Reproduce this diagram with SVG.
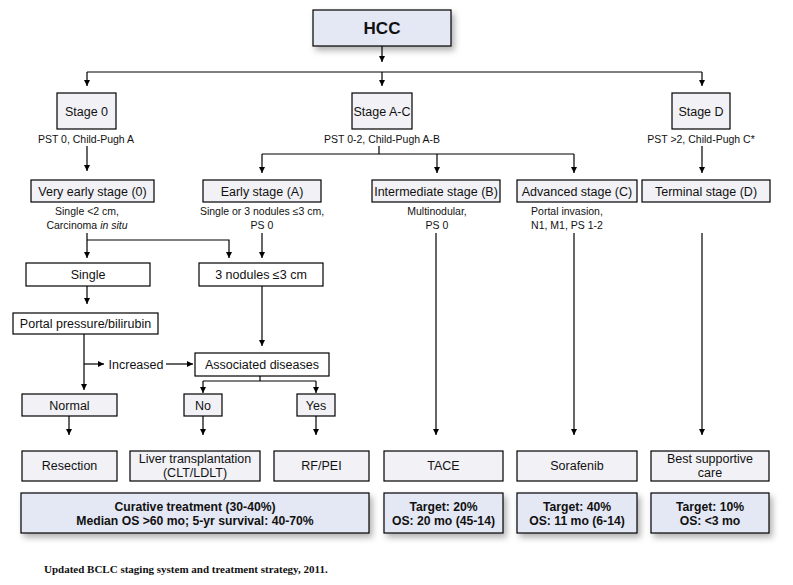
<svg xmlns="http://www.w3.org/2000/svg" width="793" height="585" viewBox="0 0 793 585">
<defs>
<marker id="ah" markerWidth="6" markerHeight="8" refX="6" refY="4" orient="auto" markerUnits="userSpaceOnUse">
<path d="M0,1 L6,4 L0,7 Z" fill="#000"/>
</marker>
<filter id="sh" x="-10%" y="-20%" width="130%" height="160%">
<feDropShadow dx="3" dy="4" stdDeviation="3" flood-color="#000" flood-opacity="0.3"/>
</filter>
<style>
rect{stroke:#000;stroke-width:1.2}
.w{fill:#fff}
.l{fill:#f1f1f6}
.b{fill:#e4e7f4}
text{font-family:"Liberation Sans",Arial,sans-serif;fill:#111;text-anchor:middle}
.t{font-size:12.5px}
.s{font-size:10.5px}
.bo{font-size:12.2px;font-weight:bold}
.c line,.c polyline{stroke:#000;stroke-width:1.2;fill:none}
.a{marker-end:url(#ah)}
</style>
</defs>
<rect width="793" height="585" fill="#fff" style="stroke:none"/>

<g class="c">
<line class="a" x1="382" y1="46" x2="382" y2="62"/>
<line x1="87" y1="72" x2="702" y2="72"/>
<line class="a" x1="87" y1="72" x2="87" y2="86"/>
<line class="a" x1="382" y1="72" x2="382" y2="86"/>
<line class="a" x1="702" y1="72" x2="702" y2="86"/>
<line class="a" x1="87" y1="146" x2="87" y2="171"/>
<line x1="379" y1="146" x2="379" y2="154"/>
<line x1="262" y1="154" x2="574" y2="154"/>
<line class="a" x1="262" y1="154" x2="262" y2="173"/>
<line class="a" x1="437" y1="154" x2="437" y2="173"/>
<line class="a" x1="574" y1="154" x2="574" y2="173"/>
<line class="a" x1="702" y1="146" x2="702" y2="173"/>
<line class="a" x1="87" y1="233" x2="87" y2="258"/>
<polyline class="a" points="87,240 229,240 229,258"/>
<line class="a" x1="262" y1="233" x2="262" y2="258"/>
<line class="a" x1="87" y1="286" x2="87" y2="304"/>
<line class="a" x1="262" y1="286" x2="262" y2="346"/>
<line class="a" x1="84" y1="334" x2="84" y2="390"/>
<line class="a" x1="84" y1="364" x2="104" y2="364"/>
<line class="a" x1="166" y1="364" x2="193" y2="364"/>
<line x1="260" y1="376" x2="260" y2="381"/>
<line x1="203" y1="381" x2="316" y2="381"/>
<line class="a" x1="203" y1="381" x2="203" y2="393"/>
<line class="a" x1="316" y1="381" x2="316" y2="393"/>
<line class="a" x1="69" y1="416" x2="69" y2="435"/>
<line class="a" x1="203" y1="416" x2="203" y2="435"/>
<line class="a" x1="316" y1="416" x2="316" y2="435"/>
<line class="a" x1="436" y1="233" x2="436" y2="435"/>
<line class="a" x1="574" y1="233" x2="574" y2="435"/>
<line class="a" x1="702" y1="233" x2="702" y2="435"/>
</g>

<g id="hcc"><rect class="b" x="313" y="10" width="138" height="36" filter="url(#sh)"/><text x="382" y="34" style="font-size:17px;font-weight:bold">HCC</text></g>

<g id="stage0"><rect class="l" x="57" y="93" width="59" height="36"/><text class="t" x="86.5" y="116">Stage 0</text></g>
<g id="stageAC"><rect class="l" x="352" y="93" width="60" height="36"/><text class="t" x="382" y="116">Stage A-C</text></g>
<g id="stageD"><rect class="l" x="672" y="93" width="58" height="36"/><text class="t" x="701" y="116">Stage D</text></g>
<text class="s" x="86" y="143">PST 0, Child-Pugh A</text>
<text class="s" x="382" y="143">PST 0-2, Child-Pugh A-B</text>
<text class="s" x="701" y="143">PST &gt;2, Child-Pugh C*</text>

<g id="veryearly"><rect class="l" x="31" y="180" width="123" height="22"/><text class="t" x="92.5" y="195.5">Very early stage (0)</text></g>
<g id="early"><rect class="l" x="203" y="180" width="118" height="22"/><text class="t" x="262" y="195.5">Early stage (A)</text></g>
<g id="intermediate"><rect class="l" x="372" y="180" width="128" height="22"/><text class="t" x="436" y="195.5">Intermediate stage (B)</text></g>
<g id="advanced"><rect class="l" x="517" y="180" width="120" height="22"/><text class="t" x="577" y="195.5">Advanced stage (C)</text></g>
<g id="terminal"><rect class="l" x="642" y="180" width="128" height="22"/><text class="t" x="706" y="195.5">Terminal stage (D)</text></g>

<text class="s" x="87" y="215">Single &lt;2 cm,</text>
<text class="s" x="87" y="229">Carcinoma <tspan font-style="italic">in situ</tspan></text>
<text class="s" x="262" y="215">Single or 3 nodules ≤3 cm,</text>
<text class="s" x="262" y="229">PS 0</text>
<text class="s" x="437" y="215">Multinodular,</text>
<text class="s" x="437" y="229">PS 0</text>
<text class="s" x="567" y="215">Portal invasion,</text>
<text class="s" x="567" y="229">N1, M1, PS 1-2</text>

<g id="single"><rect class="w" x="26" y="263" width="124" height="23"/><text class="t" x="88" y="279">Single</text></g>
<g id="nodules"><rect class="w" x="199" y="263" width="124" height="23"/><text class="t" x="261" y="279">3 nodules ≤3 cm</text></g>
<g id="portal"><rect class="w" x="13" y="313" width="145" height="21"/><text class="t" x="85.5" y="328">Portal pressure/bilirubin</text></g>
<text class="t" x="136" y="368.5">Increased</text>
<g id="assoc"><rect class="w" x="195" y="353" width="134" height="23"/><text class="t" x="262" y="369">Associated diseases</text></g>

<g id="normal"><rect class="l" x="22" y="394" width="95" height="22"/><text class="t" x="69.5" y="409.5">Normal</text></g>
<g id="no"><rect class="l" x="184" y="394" width="38" height="22"/><text class="t" x="203" y="409.5">No</text></g>
<g id="yes"><rect class="l" x="297" y="394" width="38" height="22"/><text class="t" x="316" y="409.5">Yes</text></g>

<g id="resection"><rect class="l" x="22" y="451" width="95" height="30"/><text class="t" x="69.5" y="470">Resection</text></g>
<g id="liver"><rect class="l" x="130" y="451" width="130" height="30"/><text class="t" x="195" y="463">Liver transplantation</text><text class="t" x="195" y="477">(CLT/LDLT)</text></g>
<g id="rfpei"><rect class="l" x="274" y="451" width="95" height="30"/><text class="t" x="321.5" y="470">RF/PEI</text></g>
<g id="tace"><rect class="l" x="384" y="451" width="119" height="30"/><text class="t" x="443.5" y="470">TACE</text></g>
<g id="sorafenib"><rect class="l" x="517" y="451" width="120" height="30"/><text class="t" x="577" y="470">Sorafenib</text></g>
<g id="bsc"><rect class="l" x="651" y="451" width="118" height="30"/><text class="t" x="710" y="463">Best supportive</text><text class="t" x="710" y="477">care</text></g>

<g id="curative"><rect class="b" x="21" y="493" width="348" height="40" filter="url(#sh)"/><text class="bo" x="195" y="511">Curative treatment (30-40%)</text><text class="bo" x="195" y="525">Median OS &gt;60 mo; 5-yr survival: 40-70%</text></g>
<g id="tace-out"><rect class="b" x="384" y="493" width="119" height="40" filter="url(#sh)"/><text class="bo" x="443.5" y="511">Target: 20%</text><text class="bo" x="443.5" y="525">OS: 20 mo (45-14)</text></g>
<g id="sora-out"><rect class="b" x="517" y="493" width="120" height="40" filter="url(#sh)"/><text class="bo" x="577" y="511">Target: 40%</text><text class="bo" x="577" y="525">OS: 11 mo (6-14)</text></g>
<g id="bsc-out"><rect class="b" x="651" y="493" width="118" height="40" filter="url(#sh)"/><text class="bo" x="710" y="511">Target: 10%</text><text class="bo" x="710" y="525">OS: &lt;3 mo</text></g>

<text x="44" y="573" style="font-family:'Liberation Serif','Times New Roman',serif;font-size:11px;font-weight:bold;text-anchor:start">Updated BCLC staging system and treatment strategy, 2011.</text>
</svg>
